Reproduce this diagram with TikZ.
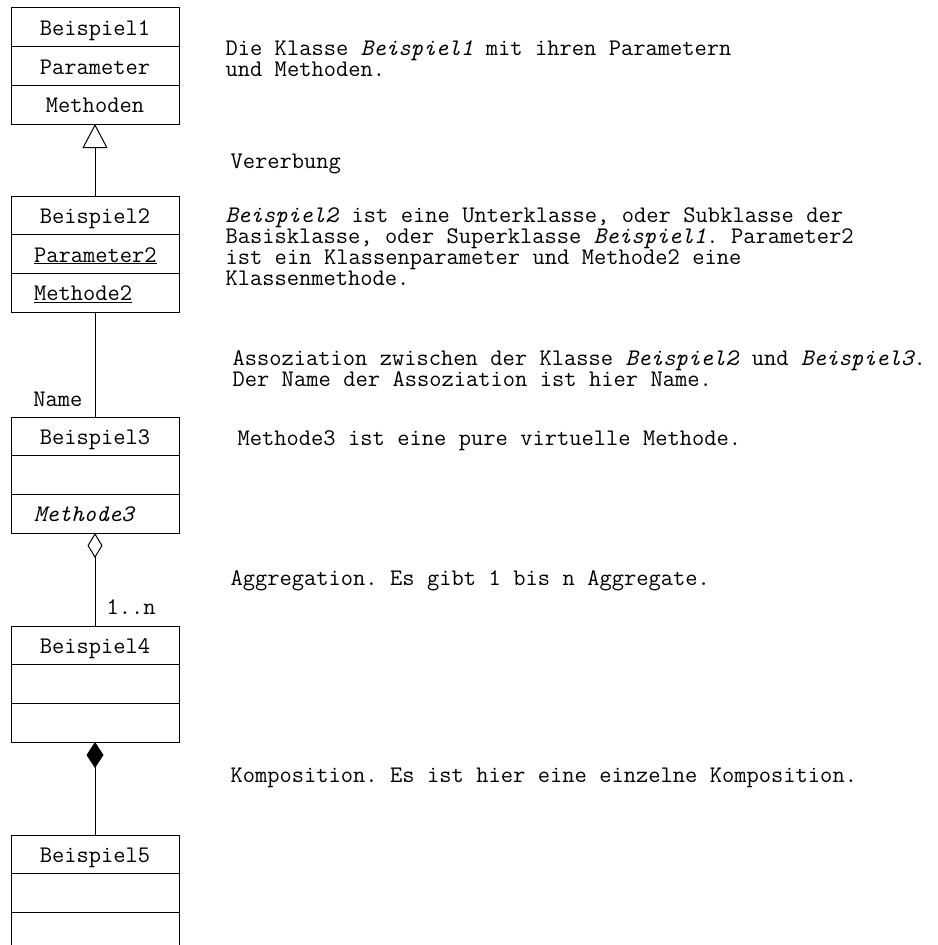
\documentclass[tikz,border=0pt]{standalone}
\usepackage{fontspec}
\setmonofont{Latin Modern Mono}
\usetikzlibrary{positioning,arrows.meta}
\newcommand\feldschrift{\ttfamily\fontsize{23.8}{21}\selectfont}
\newcommand\notizschrift{\ttfamily\fontsize{23.8}{21}\selectfont}
\newcommand\festerabstand{\setlength{\spaceskip}{0.525em}\setlength{\xspaceskip}{0.525em}}

\begin{document}
\begin{tikzpicture}[x=1pt,y=-1pt,line width=1pt]
  \tikzset{fach/.style={draw,outer sep=0pt,inner sep=0pt,
      minimum width=168pt,minimum height=38.67pt,
      text height=17pt,text depth=1pt,font=\feldschrift},
    links/.style={fach,text width=122pt,inner xsep=23pt,align=left},
    notiz/.style={anchor=base west,inner sep=0pt,text width=710pt,align=left,
      font=\notizschrift,execute at begin node=\festerabstand},
    marke/.style={inner sep=0pt,font=\feldschrift}
  }
  \useasboundingbox (0,0) rectangle (937,945);

  % Klassen
  \node [fach] (B1) at (95,27.33) {Beispiel1};
  \node [fach,below=0pt of B1] (B1p) {Parameter};
  \node [fach,below=0pt of B1p] (B1m) {Methoden};

  \node [fach,below=72pt of B1m] (B2) {Beispiel2};
  \node [links,below=0pt of B2] (B2p) {\underline{Parameter2}};
  \node [links,below=0pt of B2p] (B2m) {\underline{Methode2}};

  \node [fach,below=105pt of B2m] (B3) {Beispiel3};
  \node [fach,below=0pt of B3] (B3p) {};
  \node [links,below=0pt of B3p] (B3m) {\textit{Methode3}};

  \node [fach,below=93pt of B3m] (B4) {Beispiel4};
  \node [fach,below=0pt of B4] (B4p) {};
  \node [fach,below=0pt of B4p] (B4m) {};

  \node [fach,below=93pt of B4m] (B5) {Beispiel5};
  \node [fach,below=0pt of B5] (B5p) {};
  \node [fach,below=0pt of B5p] (B5m) {};

  % Beziehungen
  \draw [-{Triangle[open,length=24pt,width=25pt]}] (B2.north) -- (B1m.south);
  \draw (B2m.south) -- node [marke,pos=0.83,left=12pt] {Name} (B3.north);
  \draw [{Diamond[open,length=25pt,width=15pt]}-] (B3m.south)
        -- node [marke,pos=0.8,right=11pt] {1..n} (B4.north);
  \draw [{Diamond[length=26pt,width=17pt]}-] (B4m.south) -- (B5.north);

  % Erklaerungen
  \node [notiz] (T1) at (225,55) {Die Klasse \textit{Beispiel1} mit ihren Parametern\\und Methoden.};
  \node [notiz] (T2) at (230,168) {Vererbung};
  \node [notiz] (T3) at (225,222) {\textit{Beispiel2} ist eine Unterklasse, oder Subklasse der\\Basisklasse, oder Superklasse \textit{Beispiel1}. Parameter2\\ist ein Klassenparameter und Methode2 eine\\Klassenmethode.};
  \node [notiz] (T4) at (232,365) {Assoziation zwischen der Klasse \textit{Beispiel2} und \textit{Beispiel3}.\\Der Name der Assoziation ist hier Name.};
  \node [notiz] (T5) at (237,445) {Methode3 ist eine pure virtuelle Methode.};
  \node [notiz] (T6) at (230,585) {Aggregation. Es gibt 1 bis n Aggregate.};
  \node [notiz] (T7) at (230,782) {Komposition. Es ist hier eine einzelne Komposition.};
\end{tikzpicture}
\end{document}
